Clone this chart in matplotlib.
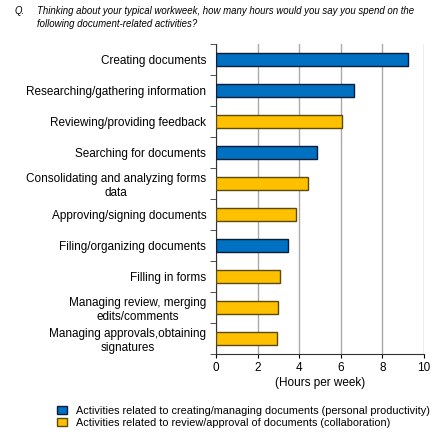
import matplotlib.pyplot as plt
from matplotlib.patches import Patch

plt.rcParams['font.family'] = ['Liberation Sans', 'DejaVu Sans']

activities = [
    "Creating documents",
    "Researching/gathering information",
    "Reviewing/providing feedback",
    "Searching for documents",
    "Consolidating and analyzing forms\ndata",
    "Approving/signing documents",
    "Filing/organizing documents",
    "Filling in forms",
    "Managing review, merging\nedits/comments",
    "Managing approvals,obtaining\nsignatures",
]
hours = [9.24, 6.64, 6.06, 4.85, 4.42, 3.83, 3.44, 3.10, 3.0, 2.91]
# 0 = personal productivity, 1 = collaboration
group = [0, 0, 1, 0, 1, 1, 0, 1, 1, 1]

face = ["#0070C0", "#FFC000"]
edge = ["#0A1E3C", "#5A4A10"]
legend_labels = [
    "Activities related to creating/managing documents (personal productivity)",
    "Activities related to review/approval of documents (collaboration)",
]

fig = plt.figure(figsize=(4.38, 4.41), dpi=100)
ax = fig.add_axes([216 / 438, 1 - 354 / 441, 208 / 438, 310 / 441])

pos = list(range(len(activities)))
ax.barh(pos, hours, height=0.4,
        color=[face[g] for g in group],
        edgecolor=[edge[g] for g in group], linewidth=1.0, zorder=3)

ax.set_xlim(0, 10)
ax.set_ylim(len(activities) - 0.5, -0.5)
ax.set_xticks([0, 2, 4, 6, 8, 10])
ax.tick_params(axis='x', labelsize=8.5, length=3, direction='out', pad=3)
ax.set_yticks(pos)
ax.set_yticklabels(activities, fontsize=8.5, multialignment='center')
ax.tick_params(axis='y', length=0, pad=7)
# boundary ticks on the category axis
ax.set_yticks([p + 0.5 for p in range(-1, len(activities))], minor=True)
ax.tick_params(axis='y', which='minor', length=4, direction='out', color='#333333')
ax.grid(axis='x', color='#AAAAAA', linewidth=1.0, zorder=0)
for s in ['top', 'right']:
    ax.spines[s].set_visible(False)
ax.spines['left'].set_color('#333333')
ax.spines['bottom'].set_color('#333333')
ax.set_xlabel("(Hours per week)", fontsize=8.5, labelpad=2)

fig.text(15 / 438, 1 - 11 / 441, "Q.", fontsize=6.9, style='italic', va='center')
fig.text(37 / 438, 1 - 11 / 441,
         "Thinking about your typical workweek, how many hours would you say you spend on the",
         fontsize=6.9, style='italic', va='center')
fig.text(37 / 438, 1 - 24 / 441, "following document-related activities?",
         fontsize=6.9, style='italic', va='center')

handles = [Patch(facecolor=face[i], edgecolor=edge[i]) for i in range(2)]
fig.legend(handles, legend_labels, loc='upper left',
           bbox_to_anchor=(57 / 438, 1 - 406 / 441), frameon=False,
           fontsize=7.8, handlelength=0.93, handleheight=0.75,
           handletextpad=0.8, labelspacing=0.15, borderpad=0,
           borderaxespad=0)

fig.savefig("out.png", dpi=100)
